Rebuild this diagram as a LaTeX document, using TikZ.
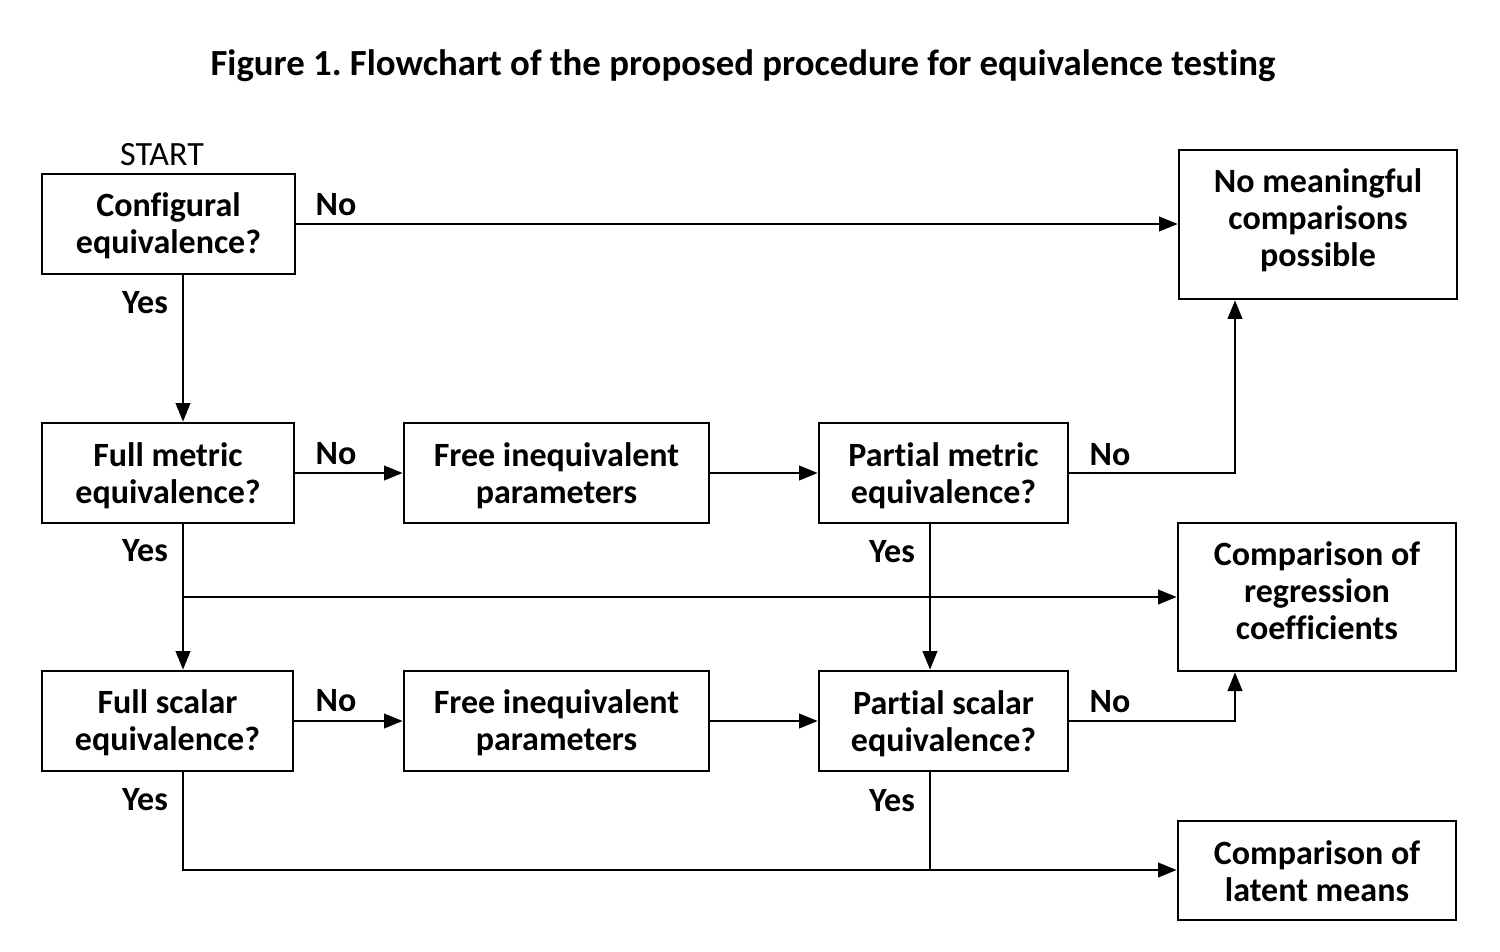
\documentclass[tikz,border=0pt]{standalone}
\usepackage{fontspec}
\setmainfont{Carlito}[Ligatures=NoCommon]
\usetikzlibrary{arrows.meta,calc}
\frenchspacing
\begin{document}
\begin{tikzpicture}[x=0.75pt,y=-0.75pt,
  font=\bfseries\fontsize{25.5}{27.75}\selectfont,
  box/.style={draw, line width=2pt, inner sep=0pt},
  txt/.style={align=center, inner sep=0pt},
  sz/.style 2 args={minimum width=#1*0.75pt, minimum height=#2*0.75pt},
  arr/.style={line width=1.5pt, -{Triangle[length=14pt,width=11pt]}},
  ln/.style={line width=1.5pt},
  lbl/.style={inner sep=0pt}]
\useasboundingbox (0,0) rectangle (1500,952);
\node[lbl, font=\bfseries\fontsize{27.6}{30}\selectfont] (title) at (743,66) {Figure 1. Flowchart of the proposed procedure for equivalence testing};
\node[lbl, font=\mdseries\fontsize{25.5}{27.75}\selectfont] (start) at (162,155) {START};
% boxes
\node[box, sz={253}{100}] (conf) at (168.5,224) {};
\node[box, sz={252}{100}] (fm) at (168,473) {};
\node[box, sz={251}{100}] (fs) at (167.5,721) {};
\node[box, sz={305}{100}] (free1) at (556.5,473) {};
\node[box, sz={305}{100}] (free2) at (556.5,721) {};
\node[box, sz={249}{100}] (pm) at (943.5,473) {};
\node[box, sz={249}{100}] (ps) at (943.5,721) {};
\node[box, sz={278}{149}] (nomean) at (1318,224.5) {};
\node[box, sz={278}{148}] (reg) at (1317,597) {};
\node[box, sz={278}{99}] (lat) at (1317,870.5) {};
% box texts
\node[txt] (confT) at ([yshift=-1.5pt]conf.center) {Configural\\equivalence?};
\node[txt] (fmT) at ([yshift=-2.25pt]fm.center) {Full metric\\equivalence?};
\node[txt] (fsT) at ([yshift=-1.5pt]fs.center) {Full scalar\\equivalence?};
\node[txt] (free1T) at ([yshift=-2.25pt]free1.center) {Free inequivalent\\parameters};
\node[txt] (free2T) at ([yshift=-1.5pt]free2.center) {Free inequivalent\\parameters};
\node[txt] (pmT) at ([yshift=-2.25pt]pm.center) {Partial metric\\equivalence?};
\node[txt] (psT) at ([yshift=-1.9pt]ps.center) {Partial scalar\\equivalence?};
\node[txt] (nomeanT) at ([yshift=3pt]nomean.center) {No meaningful\\comparisons\\possible};
\node[txt] (regT) at ([yshift=4.5pt]reg.center) {Comparison of\\regression\\coefficients};
\node[txt] (latT) at ([yshift=-0.75pt]lat.center) {Comparison of\\latent means};
% column coordinates
\coordinate (ycol) at (183,0);
\coordinate (pcol) at (930,0);
\coordinate (ncol) at (1235,0);
\coordinate (rowC) at (0,597);
\coordinate (rowE) at (0,870);
% connectors
\draw[arr] (conf.east) -- (nomean.west |- conf.east);
\draw[arr] (conf.south -| ycol) -- (fm.north -| ycol);
\draw[arr] (fm.east) -- (free1.west);
\draw[arr] (free1.east) -- (pm.west);
\draw[arr] (pm.east) -| (nomean.south -| ncol);
\draw[arr] (fm.south -| ycol) -- (fs.north -| ycol);
\draw[arr] (rowC -| ycol) -- (reg.west |- rowC);
\draw[arr] (pm.south -| pcol) -- (ps.north -| pcol);
\draw[arr] (fs.east) -- (free2.west);
\draw[arr] (free2.east) -- (ps.west);
\draw[arr] (ps.east) -| (reg.south -| ncol);
\draw[arr] (fs.south -| ycol) |- (lat.west |- rowE);
\draw[ln] (ps.south -| pcol) -- (rowE -| pcol);
% labels
\node[lbl] (no1) at (336,205) {No};
\node[lbl] (yes1) at (145,303) {Yes};
\node[lbl] (no2) at (336,454) {No};
\node[lbl] (no3) at (1110,455) {No};
\node[lbl] (yes2) at (145,551) {Yes};
\node[lbl] (yes3) at (892,552) {Yes};
\node[lbl] (no4) at (336,701) {No};
\node[lbl] (no5) at (1110,702) {No};
\node[lbl] (yes4) at (145,800) {Yes};
\node[lbl] (yes5) at (892,801) {Yes};
\end{tikzpicture}
\end{document}
